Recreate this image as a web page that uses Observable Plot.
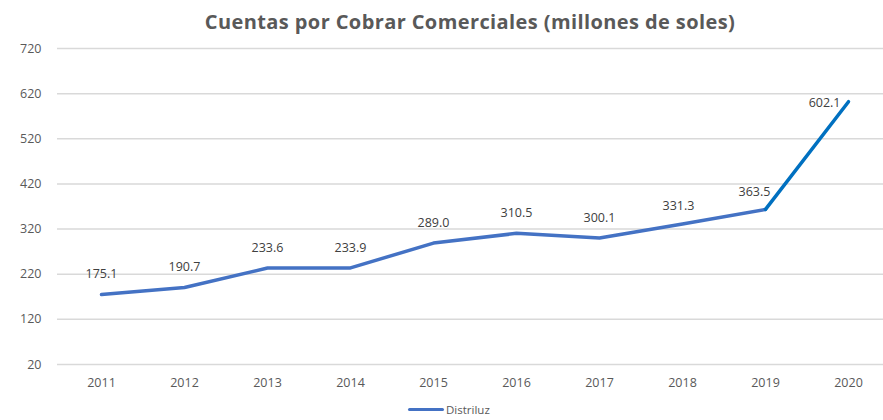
<!DOCTYPE html>
<html><head><meta charset="utf-8">
<script src="https://cdn.jsdelivr.net/npm/d3@7"></script>
<script src="https://cdn.jsdelivr.net/npm/@observablehq/plot@0.6"></script>
<style>
body{margin:0;background:#fff;width:883px;height:420px;overflow:hidden;font-family:"Open Sans",sans-serif;}
#title{height:35px;padding-left:57px;box-sizing:border-box;text-align:center;font-family:"Open Sans",sans-serif;font-weight:bold;font-size:20px;letter-spacing:0.4px;color:#595959;line-height:44px;}
#legend{position:absolute;left:408px;top:402px;font-size:11.5px;color:#595959;display:flex;align-items:center;}
#legend span.sw{display:inline-block;width:36px;height:3px;background:#4472C4;border-radius:2px;margin-right:2px;}
</style></head>
<body>
<div id="title">Cuentas por Cobrar Comerciales (millones de soles)</div>
<div id="chart"></div>
<div id="legend"><span class="sw"></span>Distriluz</div>
<script>
const years = ["2011","2012","2013","2014","2015","2016","2017","2018","2019","2020"];
const values = [175.1,190.7,233.6,233.9,289.0,310.5,300.1,331.3,363.5,602.1];
const yTicks = [20,120,220,320,420,520,620,720];
const seriesName = "Distriluz";

const data = years.map((y,i)=>({year:y, value:values[i], i}));
const last = data.length-1;
const fmt = d => d.value.toFixed(1);

const plot = Plot.plot({
  width: 883,
  height: 360,
  marginLeft: 57,
  marginRight: 0,
  marginTop: 13,
  marginBottom: 31,
  style: {fontFamily: "'Open Sans', sans-serif", fontSize: "12px", color: "#595959", background: "#fff"},
  x: {type: "point", domain: years, range: [99, 850], padding: 0, label: null},
  y: {domain: [20, 720], label: null, ticks: yTicks},
  marks: [
    Plot.ruleY(yTicks, {stroke: "#d9d9d9", strokeWidth: 1.5}),
    Plot.axisY({ticks: yTicks, tickSize: 0, tickPadding: 16, label: null, fill: "#595959", fontSize: 12.5}),
    Plot.axisX({tickSize: 0, tickPadding: 14, label: null, fill: "#595959", fontSize: 12.5}),
    Plot.line(data, {x: "year", y: "value", z: null,
      stroke: d => d.i >= 8 ? "#0070C0" : "#4472C4",
      strokeWidth: 3.5, strokeLinejoin: "round", strokeLinecap: "round"}),
    Plot.text(data.filter(d => d.i < 7), {x: "year", y: "value", text: fmt,
      dy: -20, fill: "#404040", fontSize: 12.5}),
    Plot.text(data.filter(d => d.i === 7), {x: "year", y: "value", text: fmt,
      dy: -18, dx: -4, fill: "#404040", fontSize: 12.5}),
    Plot.text(data.filter(d => d.i === 8), {x: "year", y: "value", text: fmt,
      dy: -17, dx: -11, fill: "#404040", fontSize: 12.5}),
    Plot.text(data.filter(d => d.i === last), {x: "year", y: "value", text: fmt,
      dy: 1, dx: -8, textAnchor: "end", fill: "#404040", fontSize: 12.5})
  ]
});
document.getElementById("chart").appendChild(plot);
</script>
</body></html>
